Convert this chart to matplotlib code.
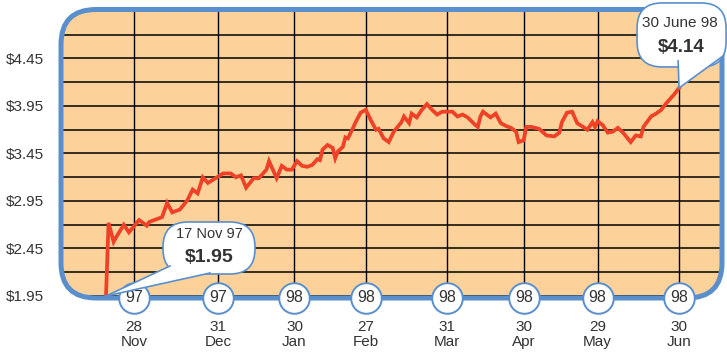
import matplotlib
matplotlib.use("Agg")
import matplotlib.pyplot as plt
import matplotlib.transforms as mtransforms
from matplotlib.patches import FancyBboxPatch, Polygon

# Share price, trading day offsets from 17 Nov 97
days = [0, 1, 3, 4, 7, 9, 13, 16, 17, 20, 22, 24, 26, 29, 32, 34, 36, 38, 40, 43,
        46, 49, 51, 53, 55, 58, 60, 63, 64, 67, 69, 71, 73, 75, 77, 79, 81, 83, 84, 85,
        87, 89, 90, 91, 93, 94, 95, 97, 98, 100, 102, 104, 106, 107, 109, 111, 113, 116, 117, 119,
        120, 122, 124, 126, 128, 130, 132, 134, 136, 138, 140, 142, 145, 146, 147, 148, 151, 153, 155, 157,
        159, 161, 162, 164, 165, 167, 170, 173, 176, 178, 179, 181, 183, 185, 189, 191, 192, 193, 195, 197,
        199, 201, 203, 206, 208, 210, 211, 214, 216, 218, 220, 223, 225]
prices = [1.95, 2.72, 2.52, 2.57, 2.70, 2.62, 2.75, 2.69, 2.73, 2.76, 2.78, 2.93, 2.83, 2.86, 2.96, 3.07, 3.03, 3.20, 3.14, 3.19,
          3.24, 3.24, 3.20, 3.22, 3.09, 3.19, 3.19, 3.28, 3.37, 3.19, 3.32, 3.28, 3.28, 3.37, 3.32, 3.31, 3.33, 3.39, 3.38, 3.49,
          3.54, 3.51, 3.40, 3.47, 3.52, 3.62, 3.61, 3.72, 3.78, 3.88, 3.91, 3.80, 3.70, 3.71, 3.61, 3.57, 3.68, 3.78, 3.84, 3.77,
          3.87, 3.83, 3.91, 3.97, 3.91, 3.86, 3.89, 3.89, 3.89, 3.84, 3.86, 3.83, 3.75, 3.73, 3.84, 3.89, 3.83, 3.87, 3.77, 3.74,
          3.72, 3.68, 3.57, 3.59, 3.73, 3.73, 3.71, 3.64, 3.63, 3.67, 3.78, 3.88, 3.89, 3.77, 3.70, 3.78, 3.73, 3.79, 3.75, 3.67,
          3.68, 3.72, 3.67, 3.57, 3.64, 3.63, 3.73, 3.84, 3.87, 3.91, 3.98, 4.07, 4.14]

# Month-end markers along the bottom
tick_days = [11, 44, 74, 102, 134, 164, 193, 225]
tick_dates = ["28", "31", "30", "27", "31", "30", "29", "30"]
tick_months = ["Nov", "Dec", "Jan", "Feb", "Mar", "Apr", "May", "Jun"]
tick_years = ["97", "97", "98", "98", "98", "98", "98", "98"]

y_labels = [1.95, 2.45, 2.95, 3.45, 3.95, 4.45]
grid_levels = [1.95 + 0.25 * i for i in range(12)]

start_label = "17 Nov 97"
end_label = "30 June 98"

FILL = "#FDD29A"
BLUE = "#5A8FCD"
RED = "#EE4127"
TEXT = "#333333"
FONT = ["Liberation Sans Narrow", "Liberation Sans", "DejaVu Sans"]

W, H = 727, 355
fig = plt.figure(figsize=(W / 100, H / 100), dpi=100)
fig.patch.set_facecolor("white")

# axes spans the rounded frame
left, right, top, bottom = 61, 722, 9.5, 298
ax = fig.add_axes([left / W, (H - bottom) / H, (right - left) / W, (bottom - top) / H])
px_day = 2.547
px_unit = 95.0
ax.set_xlim((left - 106) / px_day, (right - 106) / px_day)
ax.set_ylim(1.95 - (bottom - 296) / px_unit, 1.95 + (296 - top) / px_unit)
ax.patch.set_visible(False)
for s in ax.spines.values():
    s.set_visible(False)

# rounded frame, in inches
frame_kw = dict(boxstyle="round,pad=0,rounding_size=0.35", transform=fig.dpi_scale_trans)
fx0, fy0 = left / 100, (H - bottom) / 100
fw, fh = (right - left) / 100, (bottom - top) / 100
fill = FancyBboxPatch((fx0, fy0), fw, fh, facecolor=FILL, edgecolor="none", zorder=0, **frame_kw)
ax.add_patch(fill)
border = FancyBboxPatch((fx0, fy0), fw, fh, facecolor="none", edgecolor=BLUE, lw=3.6,
                        zorder=4, clip_on=False, **frame_kw)
ax.add_patch(border)

for lv in grid_levels:
    ln = ax.axhline(lv, color="black", lw=1.1, zorder=1)
    ln.set_clip_path(fill)
for d in tick_days:
    ln = ax.axvline(d, color="black", lw=1.0, zorder=1)
    ln.set_clip_path(fill)

price_line, = ax.plot(days, prices, color=RED, lw=2.7, zorder=2, solid_joinstyle="miter")
price_line.set_clip_path(fill)

# y labels
ax.set_yticks(y_labels, [f"${v:.2f}" for v in y_labels])
ax.tick_params(axis="y", length=0, pad=12, labelsize=11, labelcolor=TEXT)
for t in ax.get_yticklabels():
    t.set_family(FONT)

# x labels
ax.set_xticks(tick_days, [f"{a}\n{b}" for a, b in zip(tick_dates, tick_months)])
ax.tick_params(axis="x", length=0, pad=16, labelsize=11, labelcolor=TEXT)
for t in ax.get_xticklabels():
    t.set_family(FONT)
    t.set_linespacing(1.05)

# year badges on the frame
xtrans = ax.get_xaxis_transform()
ax.plot(tick_days, [0] * len(tick_days), "o", ms=22, mfc="white", mec=BLUE, mew=1.4,
        transform=xtrans, clip_on=False, zorder=5)
for d, yr in zip(tick_days, tick_years):
    ax.text(d, 0, yr, transform=xtrans, ha="center", va="center", fontsize=11.5,
            color=TEXT, family=FONT, zorder=6)


def callout(x, y, box, tail, lines):
    # speech bubble in inches relative to a data point
    tr = fig.dpi_scale_trans + mtransforms.ScaledTranslation(x, y, ax.transData)
    bx0, by0, bx1, by1 = box
    bub = FancyBboxPatch((bx0, by0), bx1 - bx0, by1 - by0,
                         boxstyle="round,pad=0,rounding_size=0.25",
                         facecolor="white", edgecolor=BLUE, lw=1.2,
                         transform=tr, clip_on=False, zorder=7)
    ax.add_patch(bub)
    ax.add_patch(Polygon([(0, 0), tail[0], tail[1]], closed=True, facecolor="white",
                         edgecolor="none", transform=tr, clip_on=False, zorder=8))
    for p in tail:
        ax.plot([0, p[0]], [0, p[1]], color=BLUE, lw=1.2, transform=tr,
                clip_on=False, zorder=9)
    for (tx, ty, s, size, weight) in lines:
        ax.text(tx, ty, s, transform=tr, ha="center", va="center", fontsize=size,
                fontweight=weight, color=TEXT, family=FONT, zorder=10)


callout(days[0], prices[0], (0.57, 0.22, 1.49, 0.74), [(0.64, 0.30), (1.04, 0.23)],
        [(1.03, 0.625, start_label, 10.5, "normal"),
         (1.03, 0.39, f"${prices[0]:.2f}", 14, "bold")])
callout(days[-1], prices[-1], (-0.42, 0.21, 0.47, 0.85), [(-0.01, 0.27), (0.44, 0.32)],
        [(0.01, 0.65, end_label, 11, "normal"),
         (0.02, 0.40, f"${prices[-1]:.2f}", 13.5, "bold")])

fig.savefig("out.png", dpi=100)
